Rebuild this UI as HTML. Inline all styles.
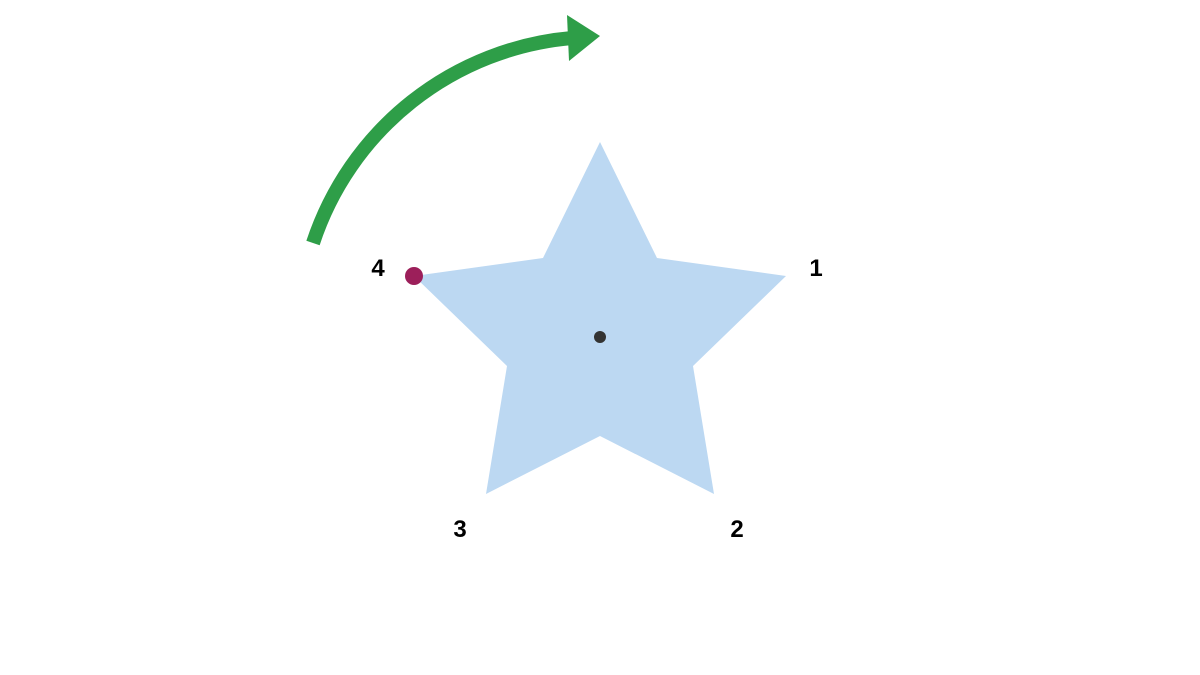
<!DOCTYPE html>
<html><head><style>
html,body{margin:0;padding:0;background:#fff;}
svg{display:block;}
text{font-family:"Liberation Sans",sans-serif;font-weight:bold;font-size:24px;fill:#000;}
</style></head><body>
<svg width="1200" height="675" viewBox="0 0 1200 675">
<polygon points="600,142 657,258 786,276 693,366 714,494 600,436 486,494 507,366 414,276 543,258" fill="#bcd8f2"/>
<circle cx="600" cy="337" r="6" fill="#333"/>
<circle cx="414" cy="276" r="9" fill="#9c1f5a"/>
<path d="M313,243 A300,300 0 0 1 572,38" fill="none" stroke="#2e9e48" stroke-width="14"/>
<polygon points="600,36 567,15 569,61" fill="#2e9e48"/>
<text x="378" y="276" text-anchor="middle">4</text>
<text x="816" y="276" text-anchor="middle">1</text>
<text x="460" y="537" text-anchor="middle">3</text>
<text x="737" y="537" text-anchor="middle">2</text>
</svg>
</body></html>
